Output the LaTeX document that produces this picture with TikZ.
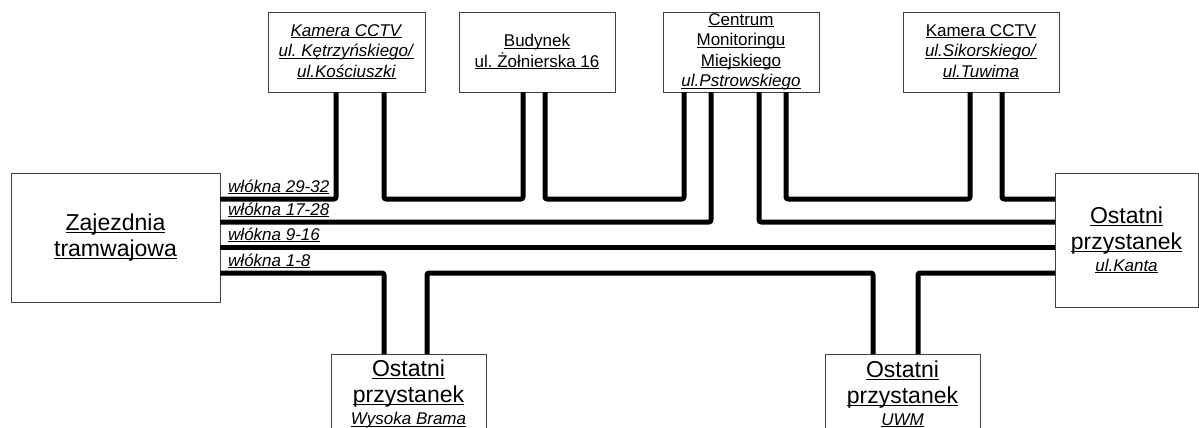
\documentclass[tikz,border=0pt]{standalone}
\usepackage{fontspec}
\setmainfont{Liberation Sans}
\usetikzlibrary{calc}

\newcommand{\ulin}[1]{{\setbox0=\hbox{#1}\rlap{\rule[-0.12em]{\wd0}{0.065em}}\box0}}

\begin{document}
\begin{tikzpicture}[x=1pt,y=-1pt,
  box/.style={draw=black!75, line width=0.8pt, fill=white, inner sep=0pt, outer sep=0pt, align=center},
  small/.style={box, minimum width=156, minimum height=80, font=\fontsize{17}{20.5}\selectfont},
  big/.style={box, font=\fontsize{23}{26}\selectfont},
  fiber/.style={line width=5pt, line join=round, rounded corners=2pt},
  lbl/.style={inner sep=0pt, anchor=base west, font=\fontsize{17}{20}\selectfont\itshape}]

	\useasboundingbox (0,0) rectangle (1199,428);
	\clip (0,0) rectangle (1199,428);

	\node[big, minimum width=209, minimum height=129] (zaj) at (115.5,237.5) {\ulin{Zajezdnia}\\\ulin{tramwajowa}};
	\node[big, minimum width=143, minimum height=134] (kanta) at (1126.5,240) {\ulin{Ostatni}\\\ulin{przystanek}\\[-4pt]{\fontsize{17}{20}\selectfont\ulin{\textit{ul.Kanta}}}};

	\node[small, minimum width=157] (kam1) at (346.5,52) {\ulin{\textit{Kamera CCTV}}\\\ulin{\textit{ul.\ Kętrzyńskiego/}}\\\ulin{\textit{ul.Kościuszki}}};
	\node[small] (bud) at (537,52) {\ulin{Budynek}\\\ulin{ul.\ Żołnierska 16}};
	\node[small] (cmm) at (741,52) {\ulin{Centrum}\\\ulin{Monitoringu}\\\ulin{Miejskiego}\\\ulin{\textit{ul.Pstrowskiego}}};
	\node[small] (kam2) at (981,52) {\ulin{Kamera CCTV}\\\ulin{\textit{ul.Sikorskiego/}}\\\ulin{\textit{ul.Tuwima}}};

	\node[big, minimum width=155, minimum height=80] (wb) at (408.5,394) {\ulin{Ostatni}\\\ulin{przystanek}\\[-4pt]{\fontsize{17}{20}\selectfont\ulin{\textit{Wysoka Brama}}}};
	\node[big, minimum width=155, minimum height=80] (uwm) at (902.5,394) {\ulin{Ostatni}\\\ulin{przystanek}\\[-4pt]{\fontsize{17}{20}\selectfont\ulin{\textit{UWM}}}};

	% wyjscia wlokien
	\coordinate (z4) at ([yshift=-26]zaj.north east);
	\coordinate (z3) at ([yshift=-49]zaj.north east);
	\coordinate (z2) at ([yshift=-74]zaj.north east);
	\coordinate (z1) at ([yshift=-100]zaj.north east);
	\coordinate (ka4) at ([yshift=-26]kanta.north west);
	\coordinate (ka3) at ([yshift=-49]kanta.north west);
	\coordinate (ka2) at ([yshift=-74]kanta.north west);
	\coordinate (ka1) at ([yshift=-100]kanta.north west);

	\coordinate (k1a) at ([xshift=-10.5]kam1.south);
	\coordinate (k1b) at ([xshift=37.5]kam1.south);
	\coordinate (bua) at ([xshift=-14]bud.south);
	\coordinate (bub) at ([xshift=8]bud.south);
	\coordinate (cm1) at ([xshift=-57]cmm.south);
	\coordinate (cm2) at ([xshift=-30]cmm.south);
	\coordinate (cm3) at ([xshift=18]cmm.south);
	\coordinate (cm4) at ([xshift=45]cmm.south);
	\coordinate (k2a) at ([xshift=-11]kam2.south);
	\coordinate (k2b) at ([xshift=21]kam2.south);
	\coordinate (wba) at ([xshift=-24.5]wb.north);
	\coordinate (wbb) at ([xshift=18.5]wb.north);
	\coordinate (uwa) at ([xshift=-29.5]uwm.north);
	\coordinate (uwb) at ([xshift=15.5]uwm.north);

	\draw[fiber] (z4) -| (k1a);
	\draw[fiber] (z3) -| (cm2);
	\draw[fiber] (z2) -- (ka2);
	\draw[fiber] (z1) -| (wba);
	\draw[fiber] (wbb) -- (wbb |- z1) -- (uwa |- z1) -- (uwa);
	\draw[fiber] (uwb) -- (uwb |- z1) -- (ka1);
	\draw[fiber] (k1b) -- (k1b |- z4) -- (bua |- z4) -- (bua);
	\draw[fiber] (bub) -- (bub |- z4) -- (cm1 |- z4) -- (cm1);
	\draw[fiber] (cm3) -- (cm3 |- z3) -- (ka3);
	\draw[fiber] (cm4) -- (cm4 |- z4) -- (k2a |- z4) -- (k2a);
	\draw[fiber] (k2b) -- (k2b |- z4) -- (ka4);

	\node[lbl] (l4) at ([xshift=8pt,yshift=7pt]z4) {\ulin{włókna 29-32}};
	\node[lbl] (l3) at ([xshift=8pt,yshift=7pt]z3) {\ulin{włókna 17-28}};
	\node[lbl] (l2) at ([xshift=8pt,yshift=7pt]z2) {\ulin{włókna 9-16}};
	\node[lbl] (l1) at ([xshift=8pt,yshift=7pt]z1) {\ulin{włókna 1-8}};

\end{tikzpicture}
\end{document}
